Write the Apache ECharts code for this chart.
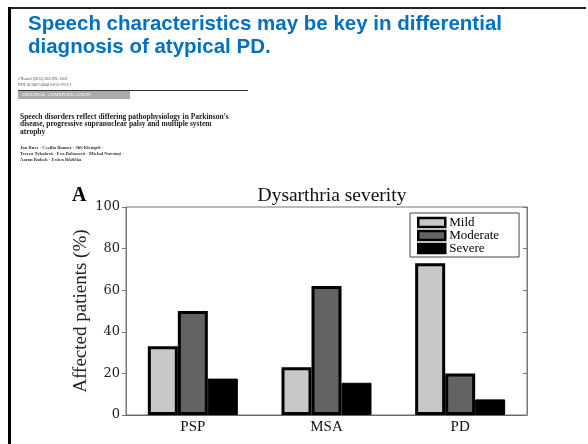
<!DOCTYPE html>
<html>
<head>
<meta charset="utf-8">
<script src="https://cdn.jsdelivr.net/npm/echarts@6/dist/echarts.min.js"></script>
<style>
  html, body { margin: 0; padding: 0; background: #fff; }
  #chart { width: 588px; height: 444px; }
</style>
</head>
<body>
<div id="chart"></div>
<script>
// groups and severity levels
const categories = ['PSP', 'MSA', 'PD'];
const mild = [33, 23, 73];
const moderate = [50, 62, 20];
const severe = [17.5, 15.5, 7.5];
const yTicks = [0, 20, 40, 60, 80, 100];

const serif = '"Liberation Serif", "DejaVu Serif", serif';
const sans = '"Liberation Sans", Arial, sans-serif';

const myChart = echarts.init(document.getElementById('chart'));

const barStyle = (fill) => ({
  color: fill,
  borderColor: '#000',
  borderWidth: 3
});

myChart.setOption({
  animation: false,
  backgroundColor: '#fff',
  title: [
    {
      text: 'Dysarthria severity',
      left: 327,
      top: 181,
      textAlign: 'center',
      textStyle: { fontFamily: serif, fontSize: 19.5, fontWeight: 'normal', color: '#111' }
    },
    {
      text: 'A',
      left: 67,
      top: 181,
      textStyle: { fontFamily: serif, fontSize: 20, fontWeight: 'bold', color: '#000' }
    }
  ],
  legend: {
    orient: 'vertical',
    left: 410,
    top: 213,
    padding: [3, 20, 2, 7],
    itemGap: 0,
    itemWidth: 27,
    itemHeight: 9,
    borderColor: '#444',
    borderWidth: 1,
    borderRadius: 0,
    icon: 'rect',
    itemStyle: { borderColor: '#000', borderWidth: 2.5 },
    textStyle: { fontFamily: serif, fontSize: 13, color: '#000', lineHeight: 12.5, padding: [0, 0, 0, -1] },
    data: ['Mild', 'Moderate', 'Severe']
  },
  grid: {
    left: 126,
    right: 61,
    top: 207,
    bottom: 29,
    show: true,
    borderColor: '#777',
    borderWidth: 1
  },
  xAxis: {
    type: 'category',
    data: categories,
    axisLine: { lineStyle: { color: '#666' } },
    axisTick: { show: false },
    axisLabel: { fontFamily: serif, fontSize: 15, color: '#111', margin: 5 }
  },
  yAxis: [
    {
      type: 'value',
      min: yTicks[0],
      max: yTicks[yTicks.length - 1],
      interval: 20,
      name: 'Affected patients (%)',
      nameLocation: 'middle',
      nameGap: 35,
      nameMoveOverlap: false,
      nameTextStyle: { fontFamily: serif, fontSize: 19, color: '#222' },
      axisLine: { show: true, lineStyle: { color: '#777' } },
      axisTick: { show: true, length: 4, lineStyle: { color: '#777' } },
      axisLabel: { fontFamily: '"DejaVu Serif", serif', fontSize: 13, color: '#222', margin: 6 },
      splitLine: { show: false }
    },
    {
      type: 'value',
      position: 'right',
      min: yTicks[0],
      max: yTicks[yTicks.length - 1],
      interval: 20,
      axisLine: { show: true, lineStyle: { color: '#777' } },
      axisTick: { show: true, inside: true, length: 4, lineStyle: { color: '#777' } },
      axisLabel: { show: false },
      splitLine: { show: false }
    }
  ],
  series: [
    { name: 'Mild', type: 'bar', data: mild, barWidth: 30, barGap: '0%', itemStyle: barStyle('#c8c8c8') },
    { name: 'Moderate', type: 'bar', data: moderate, barWidth: 30, barGap: '0%', itemStyle: barStyle('#636363') },
    { name: 'Severe', type: 'bar', data: severe, barWidth: 30, barGap: '0%', itemStyle: { color: '#000', borderColor: '#000', borderWidth: 1 } }
  ],
  graphic: [
    // slide frame
    { type: 'rect', shape: { x: 8, y: 7, width: 578, height: 2 }, style: { fill: '#222' } },
    { type: 'rect', shape: { x: 8, y: 7, width: 3, height: 437 }, style: { fill: '#000' } },
    // slide heading
    {
      type: 'text', left: 28, top: 14,
      style: { text: 'Speech characteristics may be key in differential', font: 'bold 20.5px ' + sans, fill: '#0070c0' }
    },
    {
      type: 'text', left: 28, top: 37,
      style: { text: 'diagnosis of atypical PD.', font: 'bold 20.5px ' + sans, fill: '#0070c0' }
    },
    // journal page snippet
    {
      type: 'text', left: 18, top: 77,
      style: { text: 'J Neurol (2015) 262:992–1001', font: '4px ' + serif, fill: '#444' }
    },
    {
      type: 'text', left: 18, top: 83,
      style: { text: 'DOI 10.1007/s00415-015-7671-1', font: '4px ' + serif, fill: '#444' }
    },
    { type: 'rect', shape: { x: 18, y: 90, width: 230, height: 1 }, style: { fill: '#333' } },
    { type: 'rect', shape: { x: 18, y: 91, width: 112, height: 8 }, style: { fill: '#aaa' } },
    {
      type: 'text', left: 22, top: 92.5,
      style: { text: 'ORIGINAL COMMUNICATION', font: '5px ' + serif, fill: '#fff' }
    },
    {
      type: 'text', left: 20, top: 113,
      style: {
        text: 'Speech disorders reflect differing pathophysiology in Parkinson\u2019s\ndisease, progressive supranuclear palsy and multiple system\natrophy',
        font: 'bold 7.5px ' + serif, fill: '#222', lineHeight: 7.3
      }
    },
    {
      type: 'text', left: 20, top: 145,
      style: {
        text: 'Jan Rusz \u00b7 Cecilia Bonnet \u00b7 Ji\u0159\u00ed Klemp\u00ed\u0159 \u00b7\nTereza Tykalov\u00e1 \u00b7 Eva Baborov\u00e1 \u00b7 Michal Novotn\u00fd \u00b7\nAaron Rulseh \u00b7 Ev\u017een R\u016f\u017ei\u010dka',
        font: 'bold 4.7px ' + serif, fill: '#333', lineHeight: 5.8
      }
    }
  ]
});
</script>
</body>
</html>
